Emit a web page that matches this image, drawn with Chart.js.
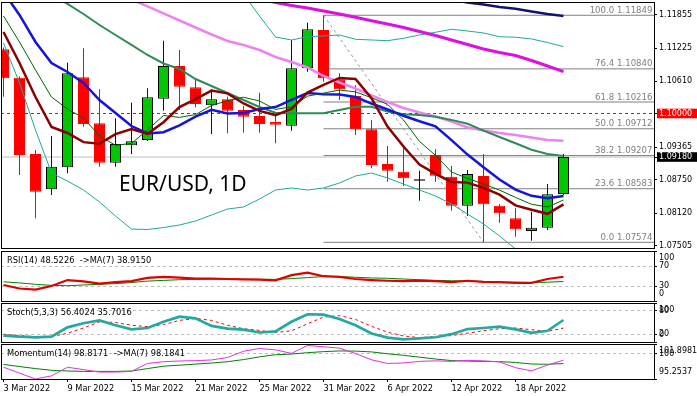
<!DOCTYPE html>
<html><head><meta charset="utf-8">
<script src="https://cdn.jsdelivr.net/npm/chart.js@4.4.1/dist/chart.umd.min.js"></script>
<style>
html,body{margin:0;padding:0;background:#fff;}
#wrap{position:relative;width:697px;height:396px;overflow:hidden;background:#fff;}
canvas{position:absolute;left:0;}
</style></head><body>
<div id="wrap">
<canvas id="cMain" width="697" height="250" style="top:0px"></canvas>
<canvas id="cRsi" width="697" height="52" style="top:250px"></canvas>
<canvas id="cSto" width="697" height="41" style="top:302px"></canvas>
<canvas id="cMom" width="697" height="53" style="top:343px"></canvas>
</div>
<script>
// ---------------- data ----------------
const dates = ['3 Mar 2022','4 Mar 2022','7 Mar 2022','8 Mar 2022','9 Mar 2022','10 Mar 2022','11 Mar 2022',
 '14 Mar 2022','15 Mar 2022','16 Mar 2022','17 Mar 2022','18 Mar 2022','21 Mar 2022','22 Mar 2022','23 Mar 2022',
 '24 Mar 2022','25 Mar 2022','28 Mar 2022','29 Mar 2022','30 Mar 2022','31 Mar 2022','1 Apr 2022','4 Apr 2022',
 '5 Apr 2022','6 Apr 2022','7 Apr 2022','8 Apr 2022','11 Apr 2022','12 Apr 2022','13 Apr 2022','14 Apr 2022',
 '15 Apr 2022','18 Apr 2022','19 Apr 2022','20 Apr 2022','21 Apr 2022'];
const xTickBars = [0,4,8,12,16,20,24,28,32];

const open  = [1.11209,1.10674,1.09237,1.08572,1.08986,1.10681,1.09815,1.09073,1.09401,1.09501,1.10278,1.10894,1.10493,1.10154,1.10267,1.10066,1.09953,1.09840,1.09770,1.10851,1.11572,1.10644,1.10329,1.09702,1.09049,1.08904,1.08734,1.09218,1.08809,1.08263,1.08823,1.08263,1.08026,1.07787,1.07849,1.08484];
const high  = [1.11240,1.10700,1.09312,1.09576,1.10956,1.11227,1.10455,1.09909,1.10203,1.10474,1.11371,1.11195,1.10663,1.10455,1.10316,1.10141,1.10391,1.10003,1.11384,1.11710,1.11849,1.10757,1.10531,1.09877,1.09388,1.09344,1.08922,1.09331,1.09011,1.08936,1.09237,1.08295,1.08214,1.08150,1.08672,1.09237];
const low   = [1.10316,1.08841,1.08026,1.08465,1.08873,1.09751,1.08998,1.08998,1.09237,1.09480,1.10052,1.10066,1.10116,1.09614,1.09627,1.09638,1.09638,1.09438,1.09676,1.10787,1.10598,1.10254,1.09595,1.08968,1.08715,1.08634,1.08357,1.08715,1.08169,1.08069,1.07574,1.07943,1.07680,1.07604,1.07806,1.08465];
const close = [1.10663,1.09218,1.08527,1.08998,1.10757,1.09802,1.09073,1.09425,1.09476,1.10305,1.10894,1.10504,1.10179,1.10267,1.10052,1.09939,1.09802,1.09789,1.10851,1.11585,1.10663,1.10455,1.09702,1.09030,1.08922,1.08779,1.08760,1.08828,1.08263,1.08860,1.08290,1.08120,1.07819,1.07849,1.08478,1.09180];

const ma5   = [1.11534,1.10951,1.10310,1.09745,1.09633,1.09460,1.09431,1.09611,1.09707,1.09616,1.09835,1.10121,1.10272,1.10430,1.10379,1.10188,1.10048,1.09970,1.10087,1.10393,1.10538,1.10669,1.10651,1.10287,1.09754,1.09378,1.09039,1.08864,1.08710,1.08698,1.08600,1.08472,1.08270,1.08188,1.08111,1.08289];
const ma7   = [1.11836,1.11346,1.10819,1.10310,1.10084,1.09915,1.09577,1.09400,1.09437,1.09691,1.09962,1.09926,1.09979,1.10150,1.10240,1.10306,1.10234,1.10076,1.10126,1.10326,1.10383,1.10441,1.10407,1.10296,1.10173,1.09877,1.09473,1.09211,1.08898,1.08777,1.08672,1.08557,1.08420,1.08290,1.08240,1.08371];
const ma10  = [1.12288,1.11855,1.11346,1.10951,1.10781,1.10574,1.10254,1.10009,1.09764,1.09624,1.09648,1.09776,1.09941,1.10068,1.09998,1.10011,1.10084,1.10121,1.10258,1.10386,1.10363,1.10358,1.10311,1.10187,1.10074,1.09958,1.09854,1.09758,1.09499,1.09226,1.08989,1.08755,1.08567,1.08449,1.08405,1.08445];
const ma20  = [null,null,1.12457,1.12250,1.12062,1.11873,1.11666,1.11478,1.11290,1.11101,1.10941,1.10838,1.10649,1.10517,1.10386,1.10254,1.10122,1.10015,1.10003,1.10005,1.10005,1.10067,1.10126,1.10128,1.10036,1.09985,1.09969,1.09939,1.09879,1.09806,1.09676,1.09557,1.09439,1.09318,1.09239,1.09201];
const bbUpper = [null,null,null,null,null,null,null,null,null,null,null,null,null,null,null,1.12241,1.11836,1.11440,1.11384,1.11446,1.11459,1.11478,1.11397,1.11384,1.11371,1.11416,1.11478,1.11529,1.11585,1.11553,1.11516,1.11446,1.11435,1.11403,1.11337,1.11258];
const bbLower = [1.11327,1.10574,1.09689,1.08879,1.08728,1.08559,1.08333,1.08069,1.07824,1.07815,1.07853,1.07900,1.07975,1.08088,1.08201,1.08239,1.08389,1.08559,1.08597,1.08559,1.08597,1.08691,1.08823,1.08879,1.08785,1.08672,1.08559,1.08446,1.08295,1.08107,1.07919,1.07693,1.07448,1.07316,1.07203,1.07165];
const maPink = [null,null,null,null,null,null,null,1.12278,1.12146,1.12015,1.11883,1.11751,1.11619,1.11487,1.11365,1.11290,1.11195,1.11064,1.10969,1.10866,1.10706,1.10583,1.10470,1.10339,1.10216,1.10103,1.10018,1.09943,1.09849,1.09736,1.09679,1.09632,1.09595,1.09548,1.09501,1.09487];
const maMagenta = [null,null,null,null,null,null,null,null,null,null,null,null,null,null,null,1.12222,1.12156,1.12090,1.12033,1.11986,1.11930,1.11873,1.11811,1.11747,1.11685,1.11619,1.11544,1.11468,1.11384,1.11299,1.11214,1.11148,1.11092,1.10998,1.10894,1.10787];
const maNavy = [null,null,null,null,null,null,null,null,null,null,null,null,null,null,null,null,null,null,null,null,null,null,null,null,null,null,null,1.12193,1.12146,1.12090,1.12052,1.12005,1.11973,1.11920,1.11873,1.11836];

const fibFrom = 20, fibTo = 30;   // swing high bar, swing low bar
const fibPct    = ['100.0','76.4','61.8','50.0','38.2','23.6','0.0'];
const fibLevels = [1.11849,1.10840,1.10216,1.09712,1.09207,1.08583,1.07574];
const roundLevel = 1.10000, lastPrice = 1.09180;
const priceTicks = [1.07505,1.08120,1.08750,1.09180,1.09365,1.10000,1.10610,1.11225,1.11855];
const chartTitle = 'EUR/USD, 1D';

const rsi   = [32.0,25.0,22.9,29.9,41.9,39.1,34.8,37.6,39.8,46.1,48.2,46.8,44.7,44.7,44.0,43.3,42.6,41.2,51.7,56.6,49.6,48.2,44.0,41.9,40.5,39.8,40.5,39.8,37.6,40.5,38.4,37.6,36.2,36.2,44.0,48.5226];
const rsiMa = [38.4,36.2,33.4,31.3,30.6,32.0,33.4,34.8,36.9,39.8,41.2,42.6,43.3,44.0,44.0,43.3,43.3,43.3,44.7,46.8,48.9,48.9,47.5,46.1,45.4,44.0,42.6,41.2,40.5,39.8,39.1,37.6,37.6,36.9,37.6,38.915];
const rsiTicks = [100,70,30,0], rsiTickLabels = [['','100'],'70','30',['0','']], rsiLevels = [70,30];

const stochK = [16.5,13.8,12.1,13.8,37.6,48.2,55.3,42.9,32.4,35.9,51.8,65.0,60.6,41.2,34.1,31.5,24.4,27.0,51.8,71.2,70.3,58.8,42.9,21.8,11.2,6.8,9.4,12.1,20.0,33.2,35.9,39.4,32.4,23.5,28.8,56.4024];
const stochD = [20.0,16.5,13.8,13.8,22.6,35.9,51.8,50.0,42.9,39.4,44.7,55.3,60.6,55.3,42.9,34.1,29.7,24.4,28.8,46.5,64.1,67.6,57.9,40.3,25.3,15.6,11.2,13.8,16.5,22.6,28.8,34.1,35.9,31.5,27.1,35.7016];
const stoTicks = [100,80,20,0], stoTickLabels = [['','100'],'80','20',['0','']], stoLevels = [80,20];

const mom   = [97.49,96.37,95.2537,95.85,97.49,97.03,96.57,96.57,96.70,98.21,98.54,98.67,98.74,98.87,99.33,100.52,101.04,100.78,100.12,101.62,101.37,101.11,100.10,98.90,98.20,98.30,98.60,98.70,98.60,98.80,98.70,98.50,97.40,96.80,97.90,98.8171];
const momMa = [98.02,97.62,97.23,96.90,96.77,96.70,96.70,96.70,96.77,97.23,97.69,97.88,98.08,98.28,98.54,98.94,99.46,99.86,99.99,100.25,100.45,100.58,100.55,100.40,100.05,99.75,99.40,99.05,98.75,98.65,98.60,98.55,98.40,98.10,98.05,98.1841];
const momMin = 95.2537, momMax = 101.8981;
const momTicks = [101.8981,100,95.2537], momTickLabels = [['','101.8981'],'100',['95.2537','']], momLevels = [100];

// ---------------- layout / style ----------------
const X_MIN = -0.15625, X_MAX = 40.65625;
const Y_MIN = 1.07467, Y_MAX = 1.12099;
const UP = '#00C800', DOWN = '#FF0000';
Chart.defaults.font.family = "'DejaVu Sans', sans-serif";
Chart.defaults.color = '#000';

const noPad = s => { s.paddingTop = 0; s.paddingBottom = 0; s.paddingLeft = 0; s.paddingRight = 0; };
const pts = arr => arr.map((y, i) => ({x: i, y}));
const lineDs = (data, color, width, extra) => Object.assign({
  type: 'line', data, borderColor: color, borderWidth: width, pointRadius: 0,
  fill: false, tension: 0, spanGaps: false, clip: 0
}, extra || {});
const hLine = (level, color, dash) => lineDs([{x: X_MIN, y: level}, {x: X_MAX, y: level}], color, 1, {borderDash: dash});

const frame = {
  id: 'frame',
  afterDraw(chart) {
    const {ctx, chartArea: a} = chart;
    ctx.save();
    ctx.strokeStyle = '#000'; ctx.lineWidth = 1;
    ctx.strokeRect(a.left + 0.5, a.top + 0.5, a.right - a.left, a.bottom - a.top);
    ctx.restore();
  }
};
const titlePlugin = (text) => ({
  id: 'ptitle',
  afterDraw(chart) {
    const {ctx, chartArea: a} = chart;
    ctx.save();
    ctx.font = "8.3px 'DejaVu Sans'";
    ctx.fillStyle = '#000'; ctx.textAlign = 'left'; ctx.textBaseline = 'middle';
    ctx.fillText(text, a.left + 6, a.top + 9.5);
    ctx.restore();
  }
});
const mainText = {
  id: 'mainText',
  afterDatasetsDraw(chart) {
    const {ctx, chartArea: a, scales: {y}} = chart;
    ctx.save();
    ctx.font = "8.6px 'DejaVu Sans'";
    ctx.fillStyle = '#808080'; ctx.textAlign = 'right'; ctx.textBaseline = 'alphabetic';
    fibPct.forEach((p, i) => {
      ctx.fillText(p + ' ' + fibLevels[i].toFixed(5), a.right - 1.5, y.getPixelForValue(fibLevels[i]) - 2.5);
    });
    ctx.font = "21px 'Noto Sans'";
    ctx.fillStyle = '#000'; ctx.textAlign = 'left';
    ctx.fillText(chartTitle, 119, 190.5);
    ctx.restore();
  }
};

// ---------------- main chart ----------------
const isUp = i => close[i] >= open[i];
const mainDatasets = [
  lineDs(pts(ma5), '#8B0000', 2.5),
  lineDs(pts(ma7), '#006400', 1),
  lineDs(pts(ma10), '#1414DC', 2.5),
  lineDs(pts(ma20), '#2E8B57', 2),
  lineDs(pts(maPink), '#EE82EE', 2.5),
  lineDs(pts(maMagenta), '#DD11DD', 3),
  lineDs(pts(maNavy), '#141470', 2.5),
  lineDs(pts(bbUpper), '#20A89C', 1),
  lineDs(pts(bbLower), '#20A89C', 1),
  {
    type: 'bar', data: close.map((c, i) => ({x: i, y: [open[i], c]})),
    backgroundColor: close.map((c, i) => isUp(i) ? UP : DOWN),
    borderColor: close.map((c, i) => isUp(i) ? '#000' : DOWN),
    borderWidth: 1, borderSkipped: false, grouped: false, barThickness: 11, maxBarThickness: 11,
    barPercentage: 1, categoryPercentage: 1, inflateAmount: 0, clip: 0
  },
  {
    type: 'bar', data: high.map((h, i) => ({x: i, y: [low[i], h]})),
    backgroundColor: close.map((c, i) => isUp(i) ? '#0A1A0A' : DOWN),
    borderWidth: 0, grouped: false, barThickness: 1, maxBarThickness: 1,
    barPercentage: 1, categoryPercentage: 1, inflateAmount: 0, clip: 0
  },
  lineDs([{x: fibFrom, y: high[fibFrom]}, {x: fibTo, y: low[fibTo]}], '#9A9A9A', 1, {borderDash: [3, 3]}),
  ...fibLevels.map(l => lineDs([{x: fibFrom, y: l}, {x: X_MAX, y: l}], '#808080', 1)),
  hLine(roundLevel, '#FF0000', [3, 3]),
  hLine(lastPrice, '#C0C0C0', [])
];

new Chart(document.getElementById('cMain'), {
  type: 'bar',
  data: {datasets: mainDatasets},
  options: {
    responsive: false, animation: false, events: [],
    layout: {padding: {left: 1, right: 0, top: 2, bottom: 2}},
    plugins: {legend: {display: false}, tooltip: {enabled: false}},
    scales: {
      x: {type: 'linear', min: X_MIN, max: X_MAX, display: false, offset: false, grid: {offset: false}},
      y: {
        type: 'linear', position: 'right', min: Y_MIN, max: Y_MAX,
        afterFit(s) { s.width = 43; noPad(s); },
        afterBuildTicks(s) { s.ticks = priceTicks.map(v => ({value: v})); },
        grid: {drawOnChartArea: false, lineWidth: 1, tickLength: 3, tickColor: '#000'},
        border: {display: false},
        ticks: {
          autoSkip: false, padding: 2, font: {size: 8, lineHeight: 1.2},
          color: c => (c.tick && (c.tick.value === roundLevel || c.tick.value === lastPrice)) ? '#FFFFFF' : '#000000',
          showLabelBackdrop: c => !!(c.tick && (c.tick.value === roundLevel || c.tick.value === lastPrice)),
          backdropColor: c => (c.tick && c.tick.value === roundLevel) ? '#FF0000' : '#000000',
          backdropPadding: {left: 2, right: 8, top: 0, bottom: 0},
          callback: v => Number(v).toFixed(5)
        }
      }
    }
  },
  plugins: [frame, mainText]
});

// ---------------- sub panels ----------------
function panel(id, datasets, yMin, yMax, tickVals, tickLabels, levels, title, withX) {
  const xHidden = {type: 'linear', min: X_MIN, max: X_MAX, display: false, offset: false};
  const xShown = {
    type: 'linear', min: X_MIN, max: X_MAX, position: 'bottom', offset: false,
    afterFit(s) { s.height = 17; noPad(s); },
    afterBuildTicks(s) { s.ticks = xTickBars.map(v => ({value: v})); },
    grid: {drawOnChartArea: false, drawTicks: true, tickLength: 3, tickColor: '#000', color: '#000'},
    border: {display: false},
    ticks: {autoSkip: false, maxRotation: 0, minRotation: 0, align: 'start', padding: 2,
            font: {size: 8.2}, color: '#000', callback: v => dates[v]}
  };
  return new Chart(document.getElementById(id), {
    type: 'line',
    data: {datasets},
    options: {
      responsive: false, animation: false, events: [],
      layout: {padding: {left: 1, right: 0, top: 1, bottom: withX ? 0 : 1}},
      plugins: {legend: {display: false}, tooltip: {enabled: false}},
      scales: {
        x: withX ? xShown : xHidden,
        y: {
          type: 'linear', position: 'right', min: yMin, max: yMax,
          afterFit(s) { s.width = 43; noPad(s); },
          afterBuildTicks(s) { s.ticks = tickVals.map(v => ({value: v})); },
          grid: {drawOnChartArea: true, lineWidth: 1, tickLength: 3, tickColor: '#000',
                 color: c => (c.tick && levels.includes(c.tick.value)) ? '#BDBDBD' : 'rgba(0,0,0,0)'},
          border: {display: false, dash: [3, 3]},
          ticks: {autoSkip: false, padding: 2, font: {size: 8, lineHeight: 1.75}, color: '#000',
                  callback: (v, i) => tickLabels[i]}
        }
      }
    },
    plugins: [frame, titlePlugin(title)]
  });
}

panel('cRsi', [
  lineDs(pts(rsi), '#E00000', 2.2),
  lineDs(pts(rsiMa), '#008000', 1)
], 0, 100, rsiTicks, rsiTickLabels, rsiLevels, 'RSI(14) 48.5226  ->MA(7) 38.9150', false);

panel('cSto', [
  lineDs(pts(stochK), '#22AAA0', 2.7),
  lineDs(pts(stochD), '#FF0000', 1, {borderDash: [3, 3]})
], 0, 100, stoTicks, stoTickLabels, stoLevels, 'Stoch(5,3,3) 56.4024 35.7016', false);

panel('cMom', [
  lineDs(pts(mom), '#E030E0', 1),
  lineDs(pts(momMa), '#008000', 1)
], momMin, momMax, momTicks, momTickLabels, momLevels, 'Momentum(14) 98.8171  ->MA(7) 98.1841', true);
</script>
</body></html>
